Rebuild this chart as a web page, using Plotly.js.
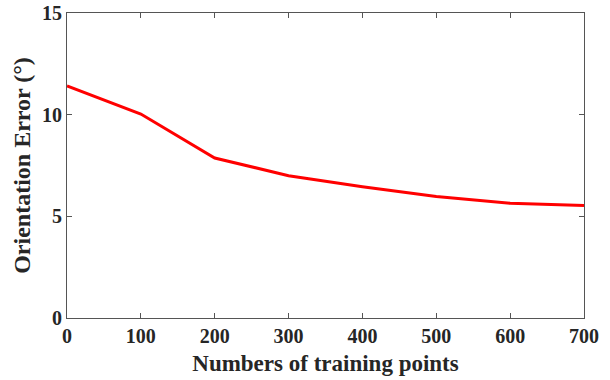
<!DOCTYPE html>
<html>
<head>
<meta charset="utf-8">
<script src="https://cdn.plot.ly/plotly-3.0.1.min.js"></script>
<style>html,body{margin:0;padding:0;background:#fff;}#chart{width:610px;height:380px;}</style>
</head>
<body>
<div id="chart"></div>
<script>
const trainingPoints = [0, 100, 200, 300, 400, 500, 600, 700];
const orientationError = [11.41, 10.03, 7.87, 7.0, 6.45, 5.97, 5.64, 5.53];
const xTicks = [0, 100, 200, 300, 400, 500, 600, 700];
const yTicks = [0, 5, 10, 15];

const fam = 'Liberation Serif, Times New Roman, serif';
const axisCommon = {
  showline: true, linecolor: '#555', linewidth: 1, mirror: 'ticks',
  ticks: 'inside', ticklen: 5, tickcolor: '#555', tickwidth: 1,
  showgrid: false, zeroline: false,
  tickfont: {family: fam, size: 20, color: '#262626', weight: 'bold'}
};
Plotly.newPlot('chart', [{
  x: trainingPoints, y: orientationError, type: 'scatter', mode: 'lines',
  line: {color: '#ff0000', width: 3}
}], {
  width: 610, height: 380,
  margin: {l: 67, r: 26, t: 13, b: 62},
  paper_bgcolor: '#fff', plot_bgcolor: '#fff',
  showlegend: false,
  font: {family: fam, size: 20, color: '#262626'},
  xaxis: Object.assign({}, axisCommon, {
    range: [0, 700], tickvals: xTicks, ticktext: xTicks.map(String),
    title: {text: '<b>Numbers of training points</b>', font: {family: fam, size: 23, color: '#262626'}, standoff: 8}
  }),
  yaxis: Object.assign({}, axisCommon, {
    range: [0, 15], tickvals: yTicks, ticktext: yTicks.map(String),
    title: {text: '<b>Orientation Error (°)</b>', font: {family: fam, size: 24, color: '#262626'}, standoff: 4}
  })
}, {displayModeBar: false, staticPlot: true});
</script>
</body>
</html>
